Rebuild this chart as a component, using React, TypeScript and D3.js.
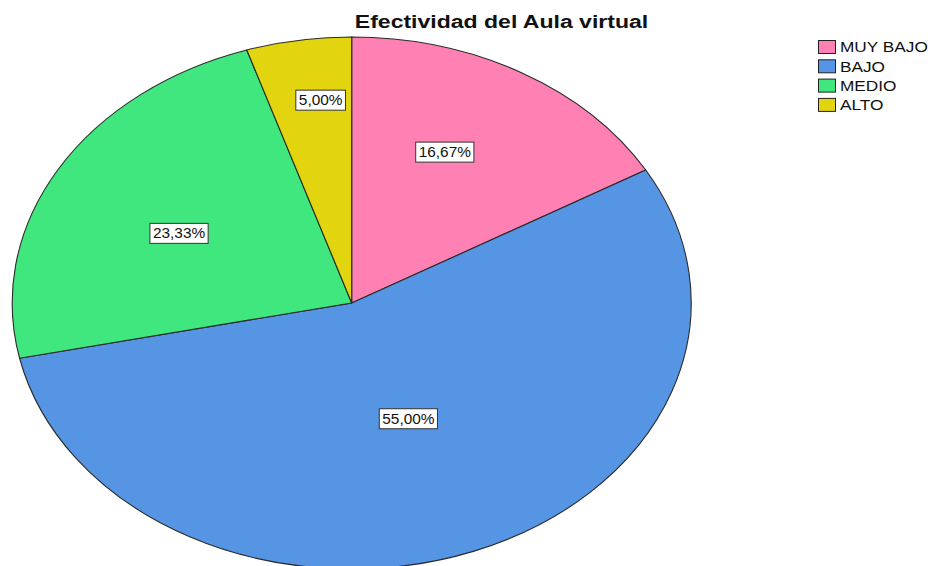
import React, { useEffect, useRef } from 'react'
import * as d3 from 'd3'

// data
const categories = ['MUY BAJO', 'BAJO', 'MEDIO', 'ALTO']
const percents = [16.67, 55.0, 23.33, 5.0]
const colors = ['#FF80B2', '#5595E3', '#40E67E', '#E2D40F']

// label placement: [position along slice, fraction of radius], layout only
const labelPlace = [[0.43, 0.63], [0.5, 0.466], [0.467, 0.572], [0.62, 0.768]]

const W = 941
const H = 566

export default function App() {
    const svgRef = useRef<SVGSVGElement>(null)

    useEffect(() => {
        const svg = d3.select(svgRef.current)
        svg.selectAll('*').remove()

        const cx = 351.7
        const cy = 303
        const ry = 266
        const rx = 339.5
        const sx = rx / ry

        const rows = categories.map((c, i) => ({ name: c, value: percents[i], color: colors[i], lp: labelPlace[i] }))

        const pie = d3.pie<any>().sort(null).value(d => d.value)
        const arcs = pie(rows)
        const arc = d3.arc<any>().innerRadius(0).outerRadius(ry)

        const g = svg.append('g')
            .attr('transform', `translate(${cx},${cy}) scale(${sx},1)`)

        g.selectAll('path')
            .data(arcs)
            .join('path')
            .attr('d', arc)
            .attr('fill', d => d.data.color)
            .attr('stroke', '#2a2a2a')
            .attr('stroke-width', 1.1)
            .attr('vector-effect', 'non-scaling-stroke')

        // labels
        const lab = svg.append('g')
            .attr('font-family', 'Liberation Sans, Arial, sans-serif')
            .attr('font-size', 14)

        arcs.forEach(d => {
            const [f, r] = d.data.lp
            const a = d.startAngle + (d.endAngle - d.startAngle) * f
            const x = cx + Math.sin(a) * rx * r
            const y = cy - Math.cos(a) * ry * r
            const txt = d.data.value.toFixed(2).replace('.', ',') + '%'
            const lg = lab.append('g').attr('transform', `translate(${x},${y})`)
            const t = lg.append('text')
                .attr('text-anchor', 'middle')
                .attr('dy', '0.36em')
                .attr('fill', '#111')
                .attr('transform', 'scale(1.1,1)')
                .text(txt)
            const bb = (t.node() as SVGTextElement).getBBox()
            const bw = bb.width * 1.1 + 6
            lg.insert('rect', 'text')
                .attr('x', -bw / 2)
                .attr('y', -10)
                .attr('width', bw)
                .attr('height', 20)
                .attr('fill', '#fff')
                .attr('stroke', '#333')
                .attr('stroke-width', 1)
        })

        // title
        svg.append('text')
            .attr('transform', 'translate(501.5,28) scale(1.28,1)')
            .attr('text-anchor', 'middle')
            .attr('font-family', 'Liberation Sans, Arial, sans-serif')
            .attr('font-weight', 'bold')
            .attr('font-size', 18)
            .attr('fill', '#111')
            .text('Efectividad del Aula virtual')

        // legend
        const leg = svg.append('g')
            .attr('font-family', 'Liberation Sans, Arial, sans-serif')
            .attr('font-size', 15)
        rows.forEach((r, i) => {
            const y = 47 + i * 19.3
            leg.append('rect')
                .attr('x', 818.5)
                .attr('y', y - 6.5)
                .attr('width', 17)
                .attr('height', 13)
                .attr('fill', r.color)
                .attr('stroke', '#222')
                .attr('stroke-width', 1)
            leg.append('text')
                .attr('transform', `translate(840,${y}) scale(1.15,1)`)
                .attr('dy', '0.36em')
                .attr('fill', '#111')
                .text(r.name)
        })
    }, [])

    return (
        <svg ref={svgRef} width={W} height={H}
            style={{ position: 'fixed', left: 0, top: 0, background: '#fff' }} />
    )
}
